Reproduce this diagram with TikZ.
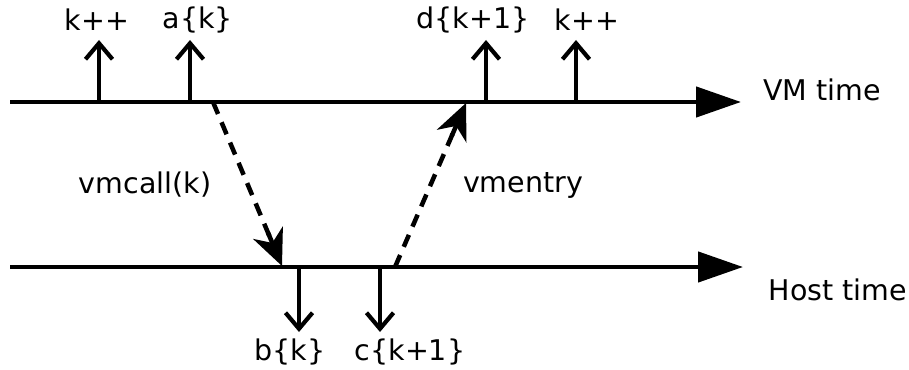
\documentclass[tikz,border=0pt]{standalone}
\usepackage{fontspec}
\setmainfont{DejaVu Sans}
\usetikzlibrary{arrows.meta,calc}
\begin{document}
\begin{tikzpicture}[x=1pt,y=-1pt,
  lbl/.style={font=\fontsize{28.5}{32}\selectfont, inner sep=0pt},
  axis/.style={line width=4.5pt,-{Triangle[length=45pt,width=30pt]}},
  tick/.style={line width=4.2pt,-{Straight Barb[length=16pt,width=27pt,line width=4.2pt]}},
  msg/.style={line width=4.5pt,dash pattern=on 13pt off 9pt,shorten >=22pt},
  msgtip/.style={line width=4.5pt,solid,-{Stealth[length=36pt,width=32pt,inset=11pt]}}]
\useasboundingbox (0,0) rectangle (909,369);
% axes
\coordinate (vm0) at (10,102);
\coordinate (vm1) at (741,102);
\coordinate (h0) at (10,267);
\coordinate (h1) at (743,267);
\draw[axis] (vm0) -- (vm1);
\draw[axis] (h0) -- (h1);
\node[lbl] (vmt) at (822,90) {VM time};
\node[lbl] (ht) at (838,290) {Host time};
% VM ticks
\coordinate (t1) at (99,102); \coordinate (t1e) at (99,40);
\coordinate (t2) at (190,102); \coordinate (t2e) at (190,40);
\coordinate (t3) at (486,102); \coordinate (t3e) at (486,40);
\coordinate (t4) at (576,102); \coordinate (t4e) at (576,40);
\draw[tick] (t1) -- (t1e);
\draw[tick] (t2) -- (t2e);
\draw[tick] (t3) -- (t3e);
\draw[tick] (t4) -- (t4e);
\node[lbl] (l1) at (97,20) {k++};
\node[lbl] (l2) at (198,20) {a\{k\}};
\node[lbl] (l3) at (473,20) {d\{k+1\}};
\node[lbl] (l4) at (587,20) {k++};
% Host ticks
\coordinate (b1) at (299,267); \coordinate (b1e) at (299,332);
\coordinate (b2) at (380,267); \coordinate (b2e) at (380,332);
\draw[tick] (b1) -- (b1e);
\draw[tick] (b2) -- (b2e);
\node[lbl] (lb) at (290,352) {b\{k\}};
\node[lbl] (lc) at (410,352) {c\{k+1\}};
% messages
\coordinate (m1s) at (213,102); \coordinate (m1e) at (282,266);
\coordinate (m2s) at (395,267); \coordinate (m2e) at (466,103);
\draw[msg] (m1s) -- (m1e);
\draw[msg] (m2s) -- (m2e);
\draw[msgtip] ($(m1e)!36pt!(m1s)$) -- (m1e);
\draw[msgtip] ($(m2e)!36pt!(m2s)$) -- (m2e);
\node[lbl] (vc) at (145,185) {vmcall(k)};
\node[lbl] (ve) at (523,185) {vmentry};
\end{tikzpicture}
\end{document}
